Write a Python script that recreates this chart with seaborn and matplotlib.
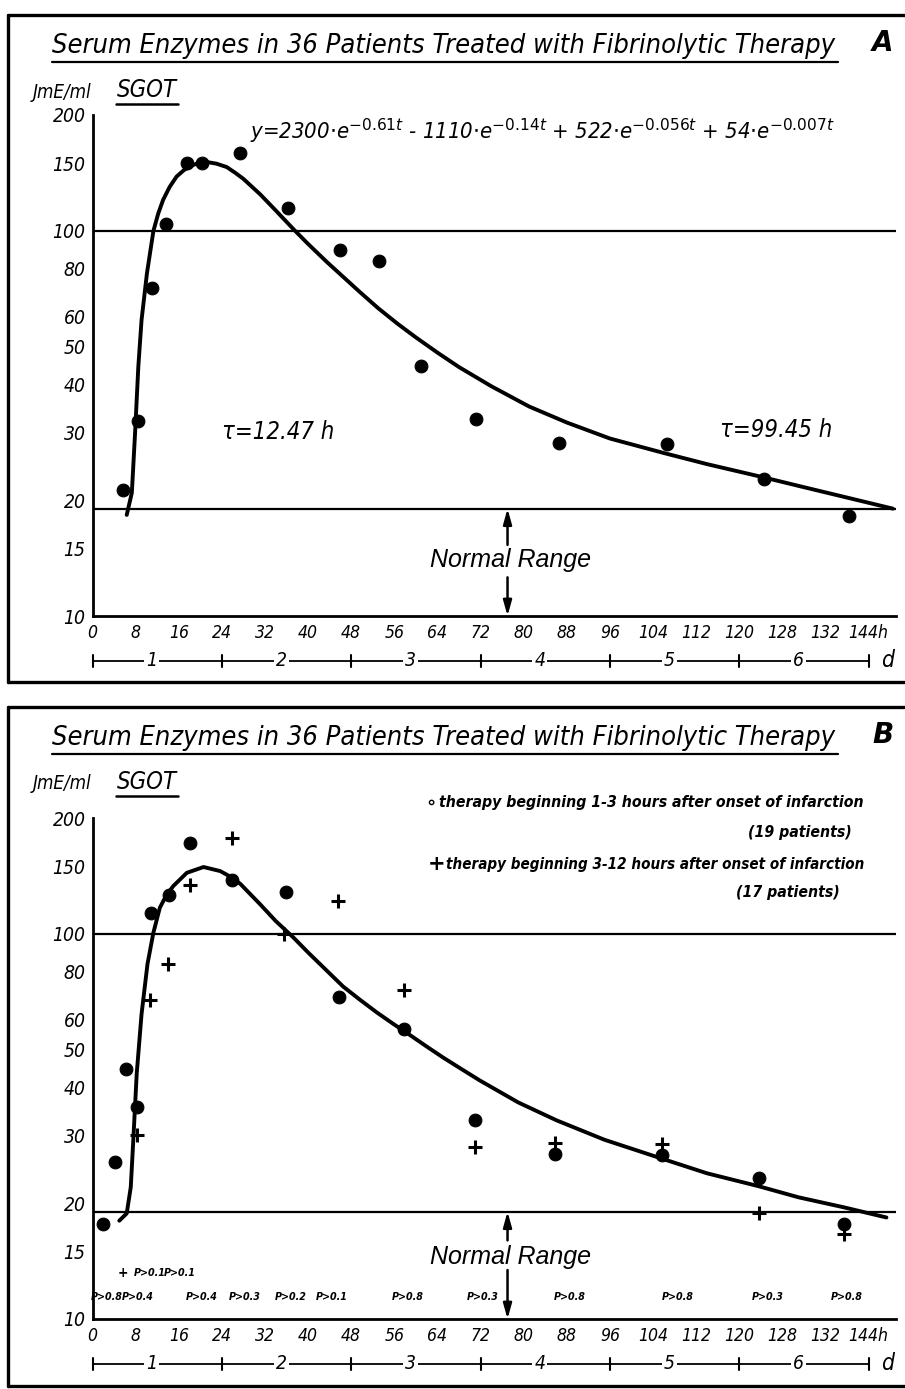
import numpy as np
import pandas as pd
import seaborn as sns
import matplotlib.pyplot as plt
from matplotlib import font_manager
from matplotlib.font_manager import FontProperties
from matplotlib.lines import Line2D

# ---- data (hours after onset, SGOT in mU/ml) ----
a_hours = [5.7, 8.5, 11.0, 13.6, 17.5, 20.4, 27.4, 36.3, 45.9, 53.2, 60.9, 71.2, 86.5, 106.5, 124.5, 140.3]
a_values = [21.3, 32.0, 71.0, 104.3, 149.9, 149.9, 159.2, 114.5, 89.2, 83.6, 44.6, 32.4, 28.1, 28.0, 22.7, 18.2]

curve_a_hours = [6.35, 7.3, 7.9, 8.5, 9.1, 10.1, 11.3, 12.2, 13.1, 14.3, 15.6, 17.0, 18.7, 20.0, 21.2, 23.0,
                 24.9, 26.5, 28.0, 31.1, 34.0, 37.3, 40.0, 43.5, 46.5, 49.6, 53.0, 56.6, 60.0, 64.0, 68.0,
                 74.0, 81.0, 88.0, 96.0, 106.0, 114.0, 124.0, 132.0, 140.0, 148.5]
curve_a_values = [18.3, 20.9, 29.9, 44.4, 58.7, 77.6, 100.0, 111.0, 120.4, 130.0, 138.4, 144.0, 148.4, 150.5,
                  151.0, 149.5, 146.5, 141.5, 136.5, 124.5, 113.0, 101.0, 92.5, 83.0, 76.0, 69.4, 63.0, 57.4,
                  52.9, 48.3, 44.3, 39.5, 35.0, 31.8, 28.9, 26.5, 24.8, 23.0, 21.6, 20.3, 19.0]

# panel B: early therapy (circles) and late therapy (crosses)
early_hours = [1.9, 4.2, 6.2, 8.3, 10.9, 14.2, 18.1, 25.8, 35.9, 45.7, 57.8, 71.0, 85.8, 105.6, 123.7, 139.4]
early_values = [17.6, 25.5, 44.6, 35.6, 113.1, 126.0, 172.4, 137.7, 128.7, 68.4, 56.5, 32.9, 26.9, 26.6, 23.3, 17.7]
late_hours = [8.3, 10.7, 14.1, 18.1, 25.8, 35.5, 45.5, 57.8, 70.9, 85.8, 105.6, 123.7, 139.4]
late_values = [30.1, 67.3, 83.5, 134.0, 177.0, 99.8, 121.8, 71.5, 27.9, 28.6, 28.5, 18.8, 16.6]

curve_b_hours = [4.97, 6.35, 7.1, 7.6, 8.2, 9.1, 10.2, 11.3, 12.5, 13.7, 15.0, 17.5, 20.6, 23.7, 25.5, 27.4,
                 31.1, 34.0, 37.3, 40.0, 43.5, 46.5, 49.6, 52.7, 55.8, 59.0, 62.0, 65.0, 68.2, 71.9, 79.0,
                 86.1, 95.0, 105.6, 114.0, 123.7, 131.0, 139.4, 147.3]
curve_b_values = [18.0, 18.8, 22.0, 29.7, 43.3, 61.9, 83.5, 100.8, 117.0, 126.0, 133.2, 144.1, 149.2, 145.6,
                  141.0, 135.0, 119.4, 108.0, 97.8, 89.5, 80.2, 73.0, 67.5, 62.6, 58.4, 54.5, 51.0, 47.8,
                  44.8, 41.6, 36.5, 32.8, 29.2, 26.1, 23.9, 22.1, 20.7, 19.5, 18.35]

p_hours_low = [2.7, 8.4, 20.3, 28.3, 36.8, 44.3, 58.5, 72.4, 88.6, 108.5, 125.3, 140.0]
p_labels_low = ["P>0.8", "P>0.4", "P>0.4", "P>0.3", "P>0.2", "P>0.1", "P>0.8", "P>0.3",
                "P>0.8", "P>0.8", "P>0.3", "P>0.8"]
p_hours_up = [5.7, 10.7, 16.2]
p_labels_up = ["+", "P>0.1", "P>0.1"]

y_ticks = [10, 15, 20, 30, 40, 50, 60, 80, 100, 150, 200]
y_minor = [70, 90]
x_ticks = list(range(0, 145, 8))
x_labels = ["0", "8", "16", "24", "32", "40", "48", "56", "64", "72", "80", "88", "96",
            "104", "112", "120", "128", "132", "144h"]
day_edges = [0, 24, 48, 72, 96, 120, 144]
day_labels = ["1", "2", "3", "4", "5", "6"]

normal_limit = 19
title = "Serum Enzymes in 36 Patients Treated with Fibrinolytic Therapy"
equation = r"y=2300$\cdot$e$^{-0.61t}$ - 1110$\cdot$e$^{-0.14t}$ + 522$\cdot$e$^{-0.056t}$ + 54$\cdot$e$^{-0.007t}$"

# ---- style ----
sns.set_style("white")
for key in ["text.color", "axes.labelcolor", "xtick.color", "ytick.color", "axes.edgecolor"]:
    plt.rcParams[key] = "black"

STRETCH_RANK = {"condensed": 0, "semi-condensed": 1, "extra-condensed": 2, "ultra-condensed": 3}
FAMILY_RANK = ["Liberation Sans Narrow", "DejaVu Sans", "Roboto Condensed", "Noto Sans", "Open Sans"]


def weight_num(w):
    if isinstance(w, str):
        return font_manager.weight_dict.get(w, 400)
    return w


def pick_font(italic, bold):
    cands = []
    for f in font_manager.fontManager.ttflist:
        if f.stretch not in STRETCH_RANK:
            continue
        if any(k in f.name for k in ("Mono", "Serif", "CJK", "Math")):
            continue
        if (f.style in ("italic", "oblique")) != italic:
            continue
        if (weight_num(f.weight) >= 600) != bold:
            continue
        if not bold and weight_num(f.weight) < 350:
            continue
        fam = FAMILY_RANK.index(f.name) if f.name in FAMILY_RANK else len(FAMILY_RANK)
        cands.append((fam, STRETCH_RANK[f.stretch], abs(weight_num(f.weight) - (700 if bold else 400)), f))
    if cands:
        cands.sort(key=lambda c: c[:3])
        return FontProperties(fname=cands[0][3].fname), cands[0][3]
    return FontProperties(family="Liberation Sans", style="italic" if italic else "normal",
                          weight="bold" if bold else "normal"), None


FP_IT, entry_it = pick_font(True, False)
FP_BI, _ = pick_font(True, True)
FP_WIDE = FontProperties(family="Liberation Sans", style="italic")

plt.rcParams["font.family"] = ["Liberation Sans", "DejaVu Sans"]
plt.rcParams["mathtext.fontset"] = "custom"
try:
    if entry_it is not None:
        pat = f"{entry_it.name}:style={entry_it.style}:stretch={entry_it.stretch}"
    else:
        pat = "Liberation Sans:italic"
    plt.rcParams["mathtext.it"] = pat
    plt.rcParams["mathtext.rm"] = pat
except Exception:
    plt.rcParams["mathtext.it"] = "Liberation Sans:italic"
    plt.rcParams["mathtext.rm"] = "Liberation Sans:italic"

W, H = 905, 1389
fig = plt.figure(figsize=(W / 100, H / 100), dpi=100)
fig.patch.set_facecolor("white")
renderer = fig.canvas.get_renderer()


def fx(x):
    return x / W


def fy(y):
    return 1 - y / H


def size_for(text, fp, width_px):
    t = fig.text(0, 0, text, fontproperties=fp, fontsize=20)
    w = t.get_window_extent(renderer).width
    t.remove()
    return 20 * width_px / w


def ftext(x0, x1, y, text, fp, size=None, **kw):
    # text spanning from pixel x0 to x1 at pixel row y
    s = size if size is not None else size_for(text, fp, x1 - x0)
    return fig.text(fx(x0), fy(y), text, fontproperties=fp, fontsize=s, ha="left", va="center", **kw)


def frame(top, bottom):
    kw = dict(color="black", lw=2.4, transform=fig.transFigure)
    fig.add_artist(Line2D([fx(8), fx(8)], [fy(top), fy(bottom)], **kw))
    fig.add_artist(Line2D([fx(8), fx(906)], [fy(top), fy(top)], **kw))
    fig.add_artist(Line2D([fx(8), fx(906)], [fy(bottom), fy(bottom)], **kw))


def header(top, letter):
    ftext(52, 835, top + 31, title, FP_IT)
    fig.add_artist(Line2D([fx(52), fx(838)], [fy(top + 47), fy(top + 47)], color="black", lw=1.6,
                          transform=fig.transFigure))
    fig.text(fx(883), fy(top + 28), letter, ha="center", va="center", fontsize=20, weight="bold",
             style="italic", family="DejaVu Sans")
    ftext(33, 92, top + 77, "JmE/ml", FP_IT)
    ftext(117, 177, top + 75, "SGOT", FP_IT)
    fig.add_artist(Line2D([fx(116), fx(178)], [fy(top + 89), fy(top + 89)], color="black", lw=1.8,
                          transform=fig.transFigure))


YLAB = size_for("200", FP_IT, 33)
XLAB = size_for("128", FP_IT, 30)


def setup_axis(ax):
    ax.set_yscale("log")
    ax.set_xlim(0, 149)
    ax.set_ylim(10, 200)
    ax.set_yticks(y_ticks, labels=[str(v) for v in y_ticks])
    ax.set_yticks(y_minor, minor=True)
    ax.yaxis.set_minor_formatter(plt.NullFormatter())
    ax.set_xticks(x_ticks, labels=x_labels)
    ax.set_xticks(list(range(4, 148, 8)), minor=True)
    for s in ["top", "right"]:
        ax.spines[s].set_visible(False)
    for s in ["left", "bottom"]:
        ax.spines[s].set_linewidth(2.0)
        ax.spines[s].set_color("black")
    ax.tick_params(axis="both", which="both", direction="in", width=1.6, color="black", labelcolor="black")
    ax.tick_params(axis="y", which="both", length=8, pad=5)
    ax.tick_params(axis="x", which="both", length=6, pad=6)
    for lab in ax.get_yticklabels():
        lab.set_fontproperties(FP_IT)
        lab.set_fontsize(YLAB)
    for lab in ax.get_xticklabels():
        lab.set_fontproperties(FP_IT)
        lab.set_fontsize(XLAB)
    ax.set_xlabel("")
    ax.set_ylabel("")
    ax.axhline(100, color="black", lw=1.6)
    ax.axhline(normal_limit, color="black", lw=1.6)

    # day scale under the hour axis
    tr = ax.get_xaxis_transform()
    yb = -0.089
    ax.plot([day_edges[0], day_edges[-1]], [yb, yb], color="black", lw=1.3, transform=tr, clip_on=False)
    for d in day_edges:
        ax.plot([d, d], [yb - 0.012, yb + 0.012], color="black", lw=1.5, transform=tr, clip_on=False)
    for i, lab in enumerate(day_labels):
        mid = (day_edges[i] + day_edges[i + 1]) / 2 - 1
        ax.text(mid, yb, lab, transform=tr, ha="center", va="center", fontproperties=FP_IT,
                fontsize=XLAB * 1.1, bbox=dict(facecolor="white", edgecolor="none", pad=1.5))
    ax.text(146.3, yb, "d", transform=tr, ha="left", va="center", fontproperties=FP_IT, fontsize=XLAB * 1.3)


def normal_range(ax, text_y, up_from, down_from):
    x = 77
    ax.text(77.6, text_y, "Normal Range", ha="center", va="center", fontproperties=FP_WIDE, fontsize=18)
    arrow = dict(arrowstyle="-|>,head_length=0.9,head_width=0.25", color="black", lw=1.8, shrinkA=0, shrinkB=0)
    ax.annotate("", xy=(x, normal_limit), xytext=(x, up_from), arrowprops=arrow)
    ax.annotate("", xy=(x, 10), xytext=(x, down_from), arrowprops=arrow)


# ---- panel A ----
frame(15, 682)
header(15, "A")
axA = fig.add_axes([fx(92.5), fy(616), fx(895.6) - fx(92.5), fy(115) - fy(616)])
setup_axis(axA)
sns.lineplot(x=curve_a_hours, y=curve_a_values, sort=False, color="black", lw=2.8, ax=axA)
sns.scatterplot(x=a_hours, y=a_values, color="black", s=85, marker="o", edgecolor="black", ax=axA, zorder=5)
ftext(250, 835, 131, equation, FP_IT)
TAU = size_for("τ=99.45 h", FP_IT, 112)
ftext(222, 345, 432, "τ=12.47 h", FP_IT, size=TAU)
ftext(720, 830, 430, "τ=99.45 h", FP_IT, size=TAU)
normal_range(axA, 14.0, 15.3, 12.6)

# ---- panel B ----
frame(707, 1386)
header(707, "B")
axB = fig.add_axes([fx(92.5), fy(1319), fx(895.6) - fx(92.5), fy(818) - fy(1319)])
setup_axis(axB)
sns.lineplot(x=curve_b_hours, y=curve_b_values, sort=False, color="black", lw=2.8, ax=axB)
sns.scatterplot(x=early_hours, y=early_values, color="black", s=85, marker="o", edgecolor="black",
                ax=axB, zorder=5)
sns.scatterplot(x=late_hours, y=late_values, color="black", s=90, marker="+", linewidth=2.2, ax=axB, zorder=5)
PSIZE = size_for("P>0.8", FP_BI, 32)
for h, lab in zip(p_hours_low, p_labels_low):
    axB.text(h, 11.4, lab, ha="center", va="center", fontproperties=FP_BI, fontsize=PSIZE)
for h, lab in zip(p_hours_up, p_labels_up):
    axB.text(h, 13.2, lab, ha="center", va="center", fontproperties=FP_BI,
             fontsize=PSIZE if lab != "+" else PSIZE * 1.3)
normal_range(axB, 14.5, 16.0, 13.4)

LEG = size_for("therapy beginning 1-3 hours after onset of infarction", FP_BI, 423)
LEG2 = size_for("therapy beginning 3-12 hours after onset of infarction", FP_BI, 416)
fig.text(fx(431), fy(803), "∘", ha="center", va="center", fontsize=13, family="DejaVu Sans", weight="bold")
ftext(439, 862, 803, "therapy beginning 1-3 hours after onset of infarction", FP_BI, size=LEG)
fig.text(fx(852), fy(833), "(19 patients)", ha="right", va="center", fontproperties=FP_BI, fontsize=LEG)
fig.text(fx(437), fy(864), "+", ha="center", va="center", fontsize=15, family="DejaVu Sans", weight="bold")
ftext(446, 862, 864, "therapy beginning 3-12 hours after onset of infarction", FP_BI, size=LEG2)
fig.text(fx(840), fy(893), "(17 patients)", ha="right", va="center", fontproperties=FP_BI, fontsize=LEG)

fig.savefig("out.png", dpi=100)
